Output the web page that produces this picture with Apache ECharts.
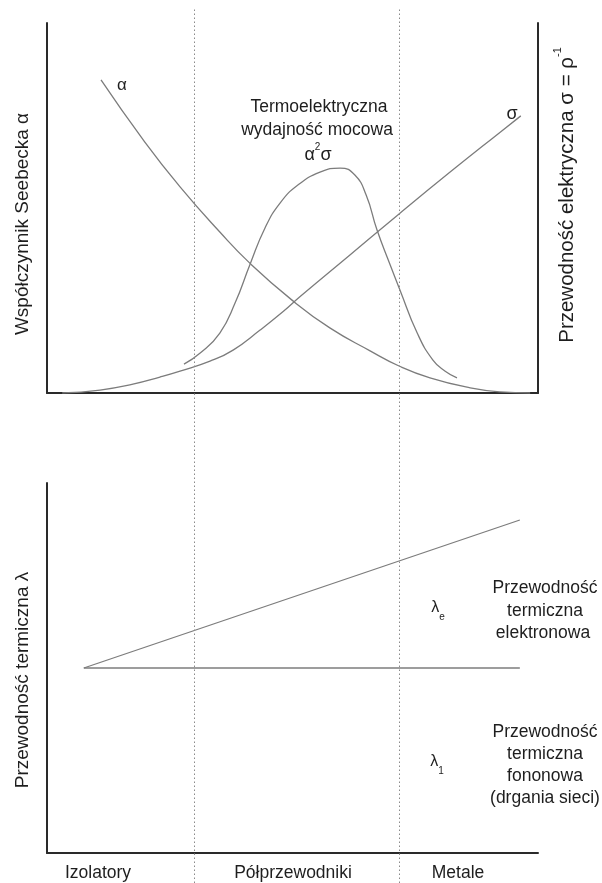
<!DOCTYPE html>
<html>
<head>
<meta charset="utf-8">
<title>Współczynnik Seebecka, przewodność elektryczna i termiczna</title>
<script src="https://cdn.jsdelivr.net/npm/echarts@6/dist/echarts.min.js"></script>
<style>
  html, body { margin: 0; padding: 0; background: #fff; }
  #chart { width: 602px; height: 883px; }
</style>
</head>
<body>
<div id="chart"></div>
<script>
// Material classes along the horizontal axis and the boundaries between them
const regions = ['Izolatory', 'Półprzewodniki', 'Metale'];
const regionBounds = [29.9, 71.7];

// Upper panel: Seebeck coefficient α, electrical conductivity σ, power factor α²σ
const alphaCurve = [
  [11.0, 84.6], [19.6, 68.4], [27.1, 55.7], [35.2, 43.5],
  [41.3, 35.1], [49.9, 25.1], [57.6, 17.6], [65.8, 11.4],
  [71.7, 7.3], [78.0, 4.1], [86.2, 1.4], [92.3, 0.3], [98.4, 0]
];
const sigmaCurve = [
  [3.1, 0], [10.8, 0.8], [17.5, 2.4], [23.0, 4.3], [27.1, 5.9],
  [33.2, 8.6], [37.9, 11.6], [43.4, 17.0], [48.1, 22.0], [51.5, 26.0],
  [61.7, 37.3], [71.7, 48.4], [82.1, 59.7], [92.3, 70.5], [96.5, 74.9]
];
const powerFactor = [
  [27.9, 7.8], [31.2, 10.8], [35.2, 16.2], [38.3, 24.3], [41.3, 34.6],
  [44.4, 44.6], [47.5, 51.4], [51.1, 56.2], [55.6, 59.7], [59.7, 60.8],
  [62.7, 58.9], [65.0, 53.5], [67.2, 44.1], [69.9, 34.6], [71.9, 27.8],
  [75.4, 16.2], [78.6, 8.9], [81.1, 5.9], [83.5, 4.1]
];

// Lower panel: thermal conductivity λ = λ1 (lattice) + λe (electronic)
const lambdaLattice = [[7.5, 50], [96.3, 50]];
const lambdaTotal = [[7.5, 50], [96.3, 90]];

const FONT = '"Liberation Sans", Arial, Helvetica, sans-serif';
const INK = '#1e1e1e';
const CURVE = '#7c7c7c';
const AXIS = '#2a2a2a';

function txt(x, y, text, size, extra) {
  return Object.assign({
    type: 'text', x: x, y: y, silent: true,
    style: {
      text: text, fill: INK, fontFamily: FONT, fontSize: size,
      align: 'center', verticalAlign: 'middle'
    }
  }, extra || {});
}

function lineSeries(name, data, xi, yi) {
  return {
    name: name, type: 'line', data: data,
    xAxisIndex: xi, yAxisIndex: yi,
    smooth: true, showSymbol: false, silent: true,
    lineStyle: { color: CURVE, width: 1.3 }
  };
}

const hiddenAxis = { show: false };
const plainAxisLine = { show: true, lineStyle: { color: AXIS, width: 2 } };

const chart = echarts.init(document.getElementById('chart'), null, { renderer: 'canvas' });

chart.setOption({
  backgroundColor: '#ffffff',
  animation: false,
  grid: [
    { left: 47, top: 23, width: 491, height: 370 },
    { left: 47, top: 483, width: 491, height: 370 },
    { left: 47, top: 9, width: 491, height: 874 }
  ],
  xAxis: [
    { type: 'value', gridIndex: 0, min: 0, max: 100, axisLine: plainAxisLine,
      axisTick: hiddenAxis, axisLabel: hiddenAxis, splitLine: hiddenAxis },
    { type: 'value', gridIndex: 1, min: 0, max: 100, axisLine: plainAxisLine,
      axisTick: hiddenAxis, axisLabel: hiddenAxis, splitLine: hiddenAxis },
    { type: 'value', gridIndex: 2, min: 0, max: 100, show: false }
  ],
  yAxis: [
    { type: 'value', gridIndex: 0, min: 0, max: 100, position: 'left',
      axisLine: plainAxisLine, axisTick: hiddenAxis, axisLabel: hiddenAxis, splitLine: hiddenAxis },
    { type: 'value', gridIndex: 0, min: 0, max: 100, position: 'right',
      axisLine: plainAxisLine, axisTick: hiddenAxis, axisLabel: hiddenAxis, splitLine: hiddenAxis },
    { type: 'value', gridIndex: 1, min: 0, max: 100, position: 'left',
      axisLine: plainAxisLine, axisTick: hiddenAxis, axisLabel: hiddenAxis, splitLine: hiddenAxis },
    { type: 'value', gridIndex: 2, min: 0, max: 1, show: false }
  ],
  series: [
    lineSeries('α', alphaCurve, 0, 0),
    lineSeries('σ', sigmaCurve, 0, 1),
    lineSeries('α²σ', powerFactor, 0, 0),
    lineSeries('λ1', lambdaLattice, 1, 2),
    lineSeries('λ', lambdaTotal, 1, 2),
    {
      name: 'granice', type: 'line', data: [], xAxisIndex: 2, yAxisIndex: 3, silent: true,
      markLine: {
        silent: true, symbol: 'none', label: { show: false },
        lineStyle: { color: '#8a8a8a', type: [1.5, 2.5], width: 1 },
        data: regionBounds.map(function (v) { return { xAxis: v }; })
      }
    }
  ],
  graphic: [
    // axis titles
    txt(23, 224, 'Współczynnik Seebecka α', 19, { rotation: Math.PI / 2 }),
    {
      type: 'text', x: 567, y: 195, rotation: Math.PI / 2, silent: true,
      style: {
        text: 'Przewodność elektryczna σ = ρ{sup|-1}', fill: INK, fontFamily: FONT, fontSize: 20.5,
        align: 'center', verticalAlign: 'middle',
        rich: { sup: { fontSize: 11, fontFamily: FONT, fill: INK, verticalAlign: 'top', lineHeight: 30 } }
      }
    },
    txt(23, 680, 'Przewodność termiczna λ', 19, { rotation: Math.PI / 2 }),

    // curve labels, upper panel
    txt(122, 85, 'α', 17),
    txt(512, 114, 'σ', 18),
    txt(319, 107, 'Termoelektryczna', 17.5),
    txt(317, 130, 'wydajność mocowa', 17.5),
    {
      type: 'text', x: 318, y: 155, silent: true,
      style: {
        text: 'α{sup|2}σ', fill: INK, fontFamily: FONT, fontSize: 18,
        align: 'center', verticalAlign: 'middle',
        rich: { sup: { fontSize: 10, fontFamily: FONT, fill: INK, verticalAlign: 'top', lineHeight: 26 } }
      }
    },

    // lower panel annotations
    {
      type: 'text', x: 438, y: 608, silent: true,
      style: {
        text: 'λ{sub|e}', fill: INK, fontFamily: FONT, fontSize: 16,
        align: 'center', verticalAlign: 'middle',
        rich: { sub: { fontSize: 10, fontFamily: FONT, fill: INK, verticalAlign: 'bottom', lineHeight: 28 } }
      }
    },
    {
      type: 'text', x: 437, y: 762, silent: true,
      style: {
        text: 'λ{sub|1}', fill: INK, fontFamily: FONT, fontSize: 16,
        align: 'center', verticalAlign: 'middle',
        rich: { sub: { fontSize: 10, fontFamily: FONT, fill: INK, verticalAlign: 'bottom', lineHeight: 28 } }
      }
    },
    txt(545, 588, 'Przewodność', 17.5),
    txt(545, 611, 'termiczna', 17.5),
    txt(543, 633, 'elektronowa', 17.5),
    txt(545, 732, 'Przewodność', 17.5),
    txt(545, 754, 'termiczna', 17.5),
    txt(545, 776, 'fononowa', 17.5),
    txt(545, 798, '(drgania sieci)', 17.5),

    // material classes
    txt(98, 873, regions[0], 17.5),
    txt(293, 873, regions[1], 17.5),
    txt(458, 873, regions[2], 17.5)
  ]
});
</script>
</body>
</html>
